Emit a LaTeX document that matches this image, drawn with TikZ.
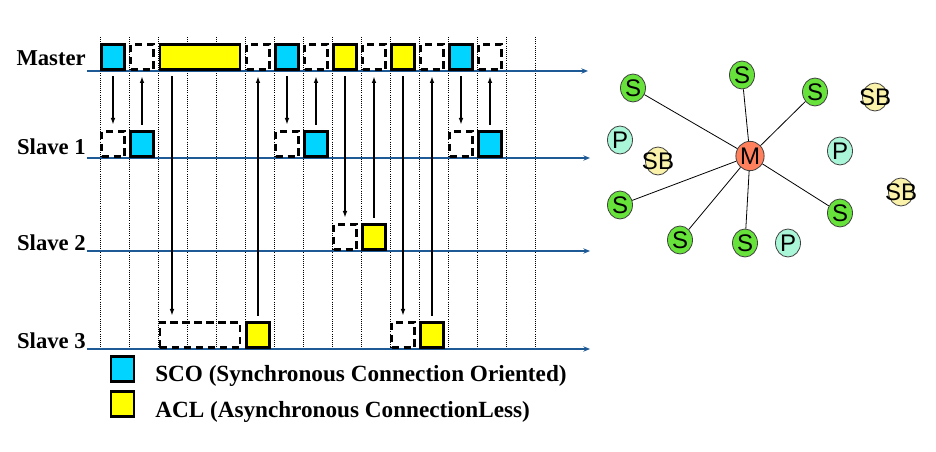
\documentclass[tikz,border=0pt]{standalone}
\usepackage{fontspec}
\setmainfont{Liberation Serif}
\newfontfamily\arialfont{Liberation Sans}
\usetikzlibrary{arrows.meta,shapes.geometric}
\definecolor{scocol}{RGB}{0,212,255}
\definecolor{aclcol}{RGB}{255,255,0}
\definecolor{lanecol}{RGB}{30,90,150}
\definecolor{slvcol}{RGB}{102,226,58}
\definecolor{mstcol}{RGB}{255,128,92}
\definecolor{prkcol}{RGB}{170,246,216}
\definecolor{sbycol}{RGB}{250,242,170}
\tikzset{
	slot/.style={draw=black, line width=2pt, minimum width=17.25pt, minimum height=19pt, inner sep=0pt},
	sco/.style={slot, fill=scocol},
	acl/.style={slot, fill=aclcol},
	free/.style={slot, dash pattern=on 5.5pt off 3.5pt},
	grid/.style={black, line width=0.6pt, densely dotted},
	lane/.style={lanecol, line width=1pt, -{Stealth[length=5pt,width=4pt]}},
	sig/.style={black, line width=1pt, -{Latex[length=5pt,width=3.5pt]}, shorten <=4pt, shorten >=4pt},
	who/.style={font=\fontsize{17}{20}\selectfont\bfseries, inner sep=0pt},
	dev/.style={ellipse, draw=black!75, line width=0.6pt, minimum width=18.75pt, minimum height=21pt, inner sep=0pt, font=\arialfont\fontsize{18}{18}\selectfont},
	slv/.style={dev, fill=slvcol},
	prk/.style={dev, fill=prkcol},
	sby/.style={dev, fill=sbycol}
}
\begin{document}
\begin{tikzpicture}[x=0.75pt,y=0.75pt,yscale=-1,xscale=1]
	\useasboundingbox (0,0) rectangle (936,452);
	\foreach \k in {0,...,15} \draw[grid] (100+29*\k,37) -- (100+29*\k,350);
	\node[who, anchor=base east] (mst) at (86,66) {Master};
	\node[who, anchor=base east] (sl1) at (86,155) {Slave 1};
	\node[who, anchor=base east] (sl2) at (86,251) {Slave 2};
	\node[who, anchor=base east] (sl3) at (86,349) {Slave 3};
	\coordinate (l0) at (87,71);  \coordinate (r0) at (588,71);
	\coordinate (l1) at (87,158); \coordinate (r1) at (590,158);
	\coordinate (l2) at (87,251); \coordinate (r2) at (590,251);
	\coordinate (l3) at (87,349); \coordinate (r3) at (590,349);
	\foreach \i in {0,...,3} \draw[lane] (l\i) -- (r\i);
	\node[sco] (m0) at (113,57) {};
	\node[free] (m1) at (142,57) {};
	\node[acl, minimum width=60.2pt] (m2) at (200,57) {};
	\node[free] (m5) at (258,57) {};
	\node[sco] (m6) at (287,57) {};
	\node[free] (m7) at (316,57) {};
	\node[acl] (m8) at (345,57) {};
	\node[free] (m9) at (374,57) {};
	\node[acl] (m10) at (403,57) {};
	\node[free] (m11) at (432,57) {};
	\node[sco] (m12) at (461,57) {};
	\node[free] (m13) at (490,57) {};
	\node[free] (sa0) at (113,144) {};
	\node[sco] (sa1) at (142,144) {};
	\node[free] (sa6) at (287,144) {};
	\node[sco] (sa7) at (316,144) {};
	\node[free] (sa12) at (461,144) {};
	\node[sco] (sa13) at (490,144) {};
	\node[free] (sb8) at (345,237) {};
	\node[acl] (sb9) at (374,237) {};
	\node[free, minimum width=60.2pt] (sc2) at (200,335) {};
	\node[acl] (sc5) at (258,335) {};
	\node[free] (sc10) at (403,335) {};
	\node[acl] (sc11) at (432,335) {};
	\coordinate (t2) at (172,0);
	\draw[sig] (m0) -- (sa0);
	\draw[sig] (sa1) -- (m1);
	\draw[sig] (m2.south -| t2) -- (sc2.north -| t2);
	\draw[sig] (sc5) -- (m5);
	\draw[sig] (m6) -- (sa6);
	\draw[sig] (sa7) -- (m7);
	\draw[sig] (m8) -- (sb8);
	\draw[sig] (sb9) -- (m9);
	\draw[sig] (m10) -- (sc10);
	\draw[sig] (sc11) -- (m11);
	\draw[sig] (m12) -- (sa12);
	\draw[sig] (sa13) -- (m13);
	\node[sco] (ksco) at (122.5,369) {};
	\node[acl] (kacl) at (122.5,404) {};
	\node[who, font=\fontsize{17.4}{20}\selectfont\bfseries, anchor=base west] (tsco) at (155,382) {SCO (Synchronous Connection Oriented)};
	\node[who, font=\fontsize{17.4}{20}\selectfont\bfseries, anchor=base west] (tacl) at (155,417) {ACL (Asynchronous ConnectionLess)};
	\node[dev, fill=mstcol, minimum width=19.5pt, minimum height=22pt] (hub) at (750,156) {M};
	\node[slv] (s1) at (633,88) {S};
	\node[slv] (s2) at (742,75) {S};
	\node[slv] (s3) at (815,92) {S};
	\node[slv] (s4) at (620,205) {S};
	\node[slv] (s5) at (680,240) {S};
	\node[slv] (s6) at (745,243) {S};
	\node[slv] (s7) at (840,213) {S};
	\node[prk] (p1) at (620,140) {P};
	\node[prk] (p2) at (840,151) {P};
	\node[prk] (p3) at (788,243) {P};
	\node[sby] (b1) at (875,97) {\makebox[0pt]{SB}};
	\node[sby] (b2) at (658,161) {\makebox[0pt]{SB}};
	\node[sby] (b3) at (901,192) {\makebox[0pt]{SB}};
	\foreach \s in {1,...,7} \draw[black, line width=0.6pt] (hub) -- (s\s);
\end{tikzpicture}
\end{document}
